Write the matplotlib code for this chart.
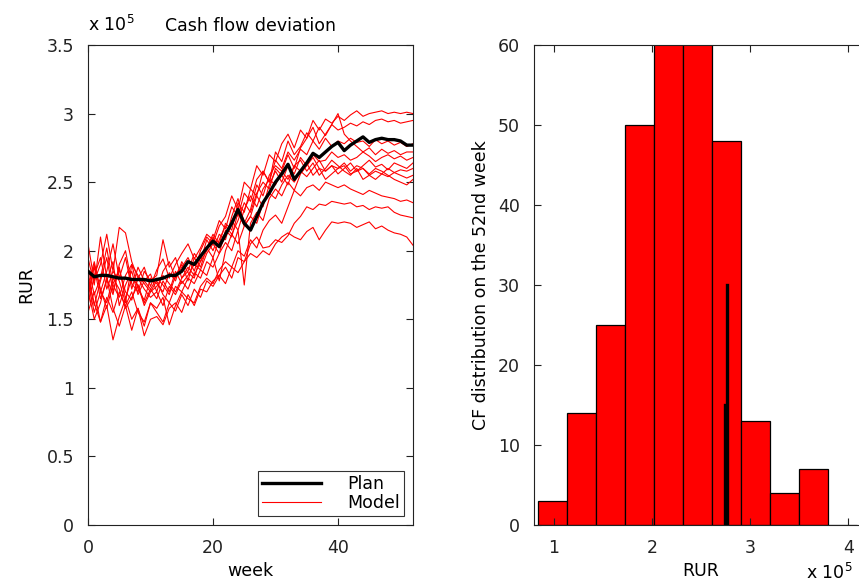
import numpy as np
import matplotlib
matplotlib.use("Agg")
import matplotlib.pyplot as plt
from matplotlib.ticker import FuncFormatter

plt.rcParams['font.family'] = ['DejaVu Sans']

weeks = list(range(53))

plan = [1.85, 1.81, 1.82, 1.82, 1.81, 1.80, 1.80, 1.79, 1.79, 1.79, 1.78,
        1.79, 1.80, 1.82, 1.82, 1.85, 1.92, 1.90, 1.96, 2.02, 2.07,
        2.03, 2.12, 2.20, 2.30, 2.20, 2.15, 2.25, 2.35, 2.42, 2.50,
        2.56, 2.63, 2.52, 2.58, 2.64, 2.71, 2.68, 2.72, 2.76, 2.79,
        2.73, 2.77, 2.80, 2.83, 2.79, 2.81, 2.82, 2.81, 2.81, 2.80, 2.77, 2.77]

model_a = [1.75, 1.92, 1.70, 1.85, 2.05, 1.80, 1.95, 1.72, 1.88, 1.78, 1.83,
           1.70, 1.85, 1.92, 1.80, 1.88, 1.95, 1.85, 2.00, 2.10, 2.05,
           2.18, 2.25, 2.40, 2.30, 2.50, 2.45, 2.62, 2.55, 2.70, 2.65,
           2.78, 2.85, 2.75, 2.88, 2.82, 2.95, 2.88, 2.96, 2.93, 2.98,
           2.95, 2.99, 3.02, 2.98, 3.00, 3.01, 3.02, 3.00, 3.01, 3.00, 3.01, 3.00]
model_b = [1.82, 1.60, 1.78, 1.95, 1.70, 1.88, 1.65, 1.80, 1.75, 1.62, 1.72,
           1.80, 1.75, 1.68, 1.82, 1.90, 1.78, 1.95, 1.88, 2.02, 2.12,
           2.05, 2.20, 2.15, 2.35, 2.28, 2.45, 2.40, 2.58, 2.50, 2.72,
           2.65, 2.80, 2.70, 2.76, 2.86, 2.80, 2.90, 2.84, 2.92, 2.88,
           2.90, 2.93, 2.91, 2.94, 2.92, 2.95, 2.96, 2.94, 2.95, 2.93, 2.94, 2.95]
model_c = [1.95, 1.75, 2.10, 1.80, 1.68, 1.90, 2.00, 1.76, 1.70, 1.85, 1.78,
           1.82, 2.08, 1.88, 1.95, 1.80, 1.85, 1.98, 1.92, 2.08, 2.00,
           2.12, 2.08, 2.25, 2.38, 2.20, 2.30, 2.48, 2.40, 2.55, 2.62,
           2.58, 2.70, 2.60, 2.75, 2.82, 2.90, 2.78, 2.85, 2.92, 3.00,
           2.85, 2.80, 2.76, 2.72, 2.75, 2.70, 2.74, 2.71, 2.73, 2.70, 2.72, 2.72]
model_d = [1.70, 1.88, 1.65, 1.78, 1.92, 1.60, 1.75, 1.85, 1.68, 1.78, 1.72,
           1.65, 1.78, 1.70, 1.85, 1.76, 1.82, 1.90, 1.86, 1.98, 2.05,
           1.98, 2.15, 2.10, 2.28, 2.18, 2.25, 2.40, 2.32, 2.48, 2.58,
           2.50, 2.62, 2.56, 2.68, 2.62, 2.70, 2.65, 2.66, 2.72, 2.68,
           2.70, 2.66, 2.68, 2.72, 2.69, 2.65, 2.68, 2.70, 2.67, 2.69, 2.66, 2.68]
model_e = [1.88, 1.68, 1.80, 2.02, 1.75, 1.66, 1.82, 1.90, 1.72, 1.64, 1.80,
           1.76, 1.70, 1.84, 1.78, 1.92, 1.84, 1.80, 1.96, 2.02, 1.95,
           2.08, 2.18, 2.12, 2.22, 2.35, 2.28, 2.42, 2.50, 2.45, 2.60,
           2.55, 2.48, 2.62, 2.58, 2.54, 2.60, 2.66, 2.58, 2.62, 2.56,
           2.60, 2.64, 2.58, 2.62, 2.66, 2.61, 2.63, 2.59, 2.64, 2.62, 2.60, 2.64]
model_f = [1.60, 1.82, 1.95, 1.72, 1.85, 1.78, 1.62, 1.90, 1.82, 1.76, 1.70,
           1.74, 1.82, 1.76, 1.70, 1.80, 1.88, 1.82, 1.92, 2.00, 2.10,
           2.02, 2.10, 2.22, 2.15, 2.30, 2.40, 2.32, 2.45, 2.52, 2.48,
           2.58, 2.52, 2.62, 2.66, 2.58, 2.64, 2.55, 2.60, 2.66, 2.62,
           2.58, 2.55, 2.60, 2.52, 2.55, 2.58, 2.56, 2.60, 2.57, 2.59, 2.58, 2.60]
model_g = [1.78, 1.55, 1.70, 1.62, 1.80, 1.72, 1.58, 1.66, 1.75, 1.60, 1.70,
           1.78, 1.68, 1.62, 1.74, 1.70, 1.80, 1.76, 1.86, 1.82, 1.95,
           1.78, 2.00, 2.12, 2.05, 2.18, 2.25, 2.20, 2.35, 2.42, 2.38,
           2.48, 2.55, 2.50, 2.58, 2.64, 2.55, 2.60, 2.52, 2.56, 2.60,
           2.62, 2.56, 2.58, 2.60, 2.55, 2.52, 2.56, 2.54, 2.57, 2.55, 2.53, 2.55]
model_h = [1.65, 1.90, 1.72, 1.58, 1.76, 1.86, 1.70, 1.64, 1.80, 1.72, 1.66,
           1.70, 1.60, 1.74, 1.68, 1.78, 1.72, 1.84, 1.80, 1.92, 1.88,
           1.98, 2.06, 2.00, 2.15, 1.75, 2.20, 2.28, 2.22, 2.38, 2.45,
           2.40, 2.50, 2.44, 2.56, 2.62, 2.68, 2.60, 2.58, 2.62, 2.60,
           2.64, 2.58, 2.62, 2.60, 2.56, 2.60, 2.58, 2.55, 2.52, 2.50, 2.48, 2.52]
model_i = [1.72, 1.50, 1.62, 1.80, 1.58, 1.45, 1.60, 1.70, 1.55, 1.48, 1.62,
           1.58, 1.66, 1.46, 1.60, 1.70, 1.65, 1.62, 1.74, 1.80, 1.76,
           1.86, 1.92, 1.88, 2.00, 1.96, 2.08, 2.02, 2.15, 2.22, 2.26,
           2.20, 2.32, 2.44, 2.40, 2.46, 2.48, 2.44, 2.50, 2.48, 2.46,
           2.48, 2.45, 2.43, 2.41, 2.44, 2.42, 2.40, 2.39, 2.38, 2.36, 2.37, 2.35]
model_j = [1.55, 1.70, 1.48, 1.60, 1.35, 1.52, 1.65, 1.50, 1.58, 1.45, 1.62,
           1.55, 1.48, 1.62, 1.56, 1.68, 1.60, 1.72, 1.66, 1.78, 1.74,
           1.82, 1.88, 1.80, 1.95, 1.92, 2.05, 2.10, 2.02, 2.03, 2.08,
           2.06, 2.11, 2.20, 2.25, 2.32, 2.30, 2.34, 2.33, 2.36, 2.35,
           2.34, 2.35, 2.32, 2.33, 2.30, 2.32, 2.31, 2.32, 2.28, 2.26, 2.25, 2.24]
model_k = [1.80, 1.62, 1.48, 1.66, 1.55, 1.70, 1.60, 1.42, 1.58, 1.38, 1.50,
           1.52, 1.46, 1.58, 1.62, 1.55, 1.68, 1.60, 1.72, 1.70, 1.78,
           1.82, 1.76, 1.88, 1.84, 1.92, 1.98, 1.95, 2.00, 1.97, 2.05,
           2.10, 2.13, 2.10, 2.08, 2.14, 2.17, 2.08, 2.15, 2.21, 2.20,
           2.21, 2.20, 2.17, 2.19, 2.21, 2.16, 2.18, 2.15, 2.13, 2.12, 2.10, 2.04]
model_l = [2.05, 1.78, 1.90, 2.12, 1.85, 2.17, 2.13, 1.92, 1.80, 1.88, 1.74,
           1.86, 1.94, 1.80, 1.90, 1.98, 2.05, 1.94, 2.02, 2.12, 2.08,
           2.22, 2.16, 2.32, 2.25, 2.42, 2.36, 2.52, 2.58, 2.50, 2.66,
           2.60, 2.72, 2.66, 2.74, 2.70, 2.80, 2.74, 2.82, 2.76, 2.80,
           2.78, 2.82, 2.79, 2.80, 2.76, 2.81, 2.78, 2.80, 2.77, 2.79, 2.76, 2.78]

models = [model_a, model_b, model_c, model_d, model_e, model_f,
          model_g, model_h, model_i, model_j, model_k, model_l]

# histogram of cash flow at week 52 (x 1e5 RUR)
bin_edges = [0.837, 1.133, 1.429, 1.725, 2.021, 2.317, 2.613,
             2.909, 3.205, 3.501, 3.797, 4.093]
bin_counts = [3, 14, 25, 50, 68, 63, 48, 13, 4, 7, 0]
plan_52_x = [2.76, 2.745]
plan_52_top = [30, 15]

fig = plt.figure(figsize=(8.59, 5.84), dpi=100)
W, H = 859, 584

def pos(x0, y0, x1, y1):
    return [x0 / W, 1 - y1 / H, (x1 - x0) / W, (y1 - y0) / H]

fs = 12.5
ax1 = fig.add_axes(pos(88, 45, 413, 525))
for m in models:
    ax1.plot(weeks, m, color='#ff0000', lw=0.8, label='_nolegend_')
ax1.plot(weeks, plan, color='black', lw=2.4, label='Plan', zorder=5)
ax1.plot([], [], color='#ff0000', lw=0.8, label='Model')
ax1.set_xlim(0, 52)
ax1.set_ylim(0, 3.5)
ax1.set_xticks([0, 20, 40])
ax1.set_yticks(np.arange(0, 3.51, 0.5))
ax1.yaxis.set_major_formatter(FuncFormatter(lambda v, p: f"{v:g}"))
ax1.set_xlabel('week', fontsize=fs, labelpad=4)
ax1.set_ylabel('RUR', fontsize=fs, labelpad=8)
ax1.text(0.5, (525 - 31) / 480, 'Cash flow deviation', transform=ax1.transAxes,
         fontsize=fs, ha='center', va='baseline')
ax1.text(0.0, (525 - 31) / 480, r'x 10$^{5}$', transform=ax1.transAxes, fontsize=fs,
         ha='left', va='baseline')
leg = ax1.legend(loc='lower right', fontsize=fs, frameon=True, fancybox=False,
                 edgecolor='black', borderaxespad=0.5, handlelength=3.4,
                 borderpad=0.25, labelspacing=0.05, handletextpad=1.5)
leg.get_frame().set_linewidth(0.8)

ax2 = fig.add_axes(pos(534, 45, 868, 525))
ax2.bar(bin_edges[:-1], bin_counts, width=np.diff(bin_edges), align='edge',
        color='#ff0000', edgecolor='black', linewidth=0.9)
ax2.plot([plan_52_x[0], plan_52_x[0]], [0, plan_52_top[0]], color='black', lw=2.4)
ax2.plot([plan_52_x[1], plan_52_x[1]], [0, plan_52_top[1]], color='black', lw=2.4)
ax2.set_xlim(0.8, 4.2)
ax2.set_ylim(0, 60)
ax2.set_xticks([1, 2, 3, 4])
ax2.set_yticks(np.arange(0, 61, 10))
ax2.set_xlabel('RUR', fontsize=fs, labelpad=4)
ax2.set_ylabel('CF distribution on the 52nd week', fontsize=fs, labelpad=6)
fig.text(806 / W, 1 - 579 / H, r'x 10$^{5}$', fontsize=fs, ha='left', va='baseline')

for ax in (ax1, ax2):
    ax.tick_params(direction='in', top=True, right=True, length=5, width=0.8,
                   labelsize=fs, colors='#222222', pad=10)
    for s in ax.spines.values():
        s.set_linewidth(0.8)
        s.set_color('#222222')

fig.savefig('out.png', dpi=100)
